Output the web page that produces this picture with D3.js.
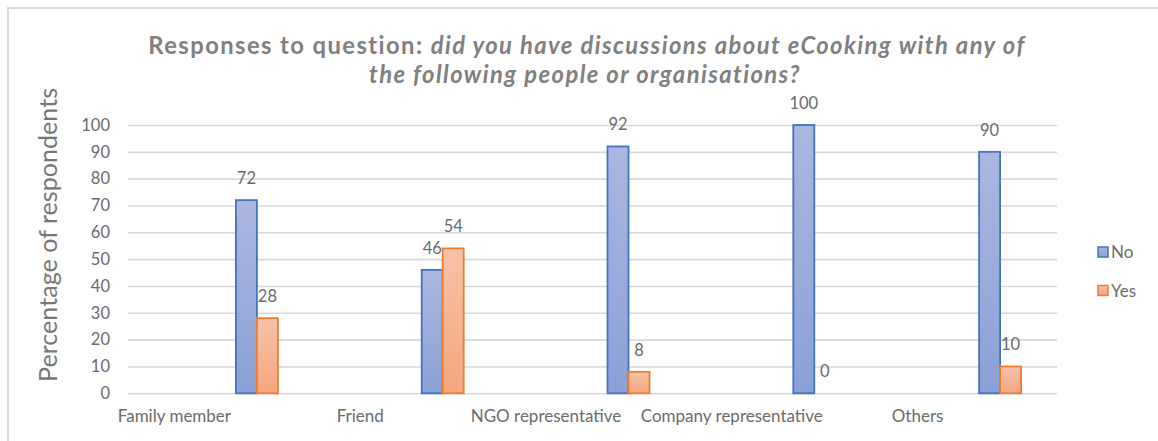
<!DOCTYPE html>
<html>
<head>
<meta charset="utf-8">
<script src="https://cdn.jsdelivr.net/npm/d3@7"></script>
<style>
  html, body { margin: 0; padding: 0; background: #ffffff; }
  svg { display: block; }
  text { font-family: Lato, "Open Sans", "DejaVu Sans", sans-serif; }
</style>
</head>
<body>
<svg id="chart" width="1158" height="441"></svg>
<script>
// Survey responses (percentage of respondents)
const categories = ["Family member", "Friend", "NGO representative", "Company representative", "Others"];
const seriesNames = ["No", "Yes"];
const noValues = [72, 46, 92, 100, 90];
const yesValues = [28, 54, 8, 0, 10];
const yTicks = [0, 10, 20, 30, 40, 50, 60, 70, 80, 90, 100];

const titleLead = "Responses to question: ";
const titleLine1 = "did you have discussions about eCooking with any of";
const titleLine2 = "the following people or organisations?";
const yAxisTitle = "Percentage of respondents";

const W = 1158, H = 441;
const plot = { left: 128, right: 1057, top: 125, bottom: 393.3 };
const textGray = "#6b6b6b";
const gridGray = "#d9d9d9";
const labelSize = "16.5px";
const colors = {
  No:  { stroke: "#4472c4", top: "#aab7df", bottom: "#8aa1d7" },
  Yes: { stroke: "#ed7d31", top: "#f7c2a9", bottom: "#f4a67e" }
};

const svg = d3.select("#chart");

// chart frame (top and left edges)
svg.append("path")
  .attr("d", `M8,441 L8,8 L${W},8`)
  .attr("fill", "none")
  .attr("stroke", "#d9d9d9")
  .attr("stroke-width", 2);

// gradients for the bars
const defs = svg.append("defs");
seriesNames.forEach(s => {
  const g = defs.append("linearGradient")
    .attr("id", "grad-" + s)
    .attr("x1", 0).attr("y1", 0).attr("x2", 0).attr("y2", 1);
  g.append("stop").attr("offset", "0%").attr("stop-color", colors[s].top);
  g.append("stop").attr("offset", "100%").attr("stop-color", colors[s].bottom);
});

const x = d3.scaleBand().domain(categories).range([plot.left, plot.right]).padding(0);
const bw = x.bandwidth();
// series slots sit to the right of each category centre
const x1 = d3.scaleBand().domain(seriesNames).range([bw / 2 + 15, bw / 2 + 57]).padding(0);
const y = d3.scaleLinear().domain([0, 100]).range([plot.bottom, plot.top]);

// horizontal gridlines
const grid = svg.append("g")
  .attr("transform", `translate(${plot.left},0)`)
  .call(d3.axisLeft(y).tickValues(yTicks).tickSize(-(plot.right - plot.left)).tickFormat(""));
grid.select(".domain").remove();
grid.selectAll("line").attr("stroke", gridGray).attr("stroke-width", 1.6);

// y tick labels
const yAxis = svg.append("g")
  .attr("transform", `translate(110,0)`)
  .call(d3.axisLeft(y).tickValues(yTicks).tickSize(0).tickPadding(0));
yAxis.select(".domain").remove();
yAxis.selectAll("text")
  .attr("fill", textGray)
  .style("font-size", labelSize)
  .style("font-family", "Lato, sans-serif");

// category labels
const xAxis = svg.append("g")
  .attr("transform", `translate(0,${plot.bottom})`)
  .call(d3.axisBottom(x).tickSize(0).tickPadding(0));
xAxis.select(".domain").remove();
xAxis.selectAll("text")
  .attr("fill", textGray)
  .attr("dx", -46.5)
  .attr("dy", 0)
  .attr("y", 29)
  .style("font-size", "17px")
  .style("font-family", "Lato, sans-serif");

// bars
const rows = categories.map((c, i) => ({ cat: c, vals: [
  { s: "No", v: noValues[i] },
  { s: "Yes", v: yesValues[i] }
]}));

const groups = svg.append("g").selectAll("g")
  .data(rows).join("g")
  .attr("transform", d => `translate(${x(d.cat)},0)`);

groups.selectAll("rect")
  .data(d => d.vals).join("rect")
  .attr("x", d => x1(d.s))
  .attr("y", d => y(d.v))
  .attr("width", x1.bandwidth())
  .attr("height", d => y(0) - y(d.v))
  .attr("fill", d => `url(#grad-${d.s})`)
  .attr("stroke", d => d.v > 0 ? colors[d.s].stroke : "none")
  .attr("stroke-width", 1.8);

// value labels
groups.selectAll("text.val")
  .data(d => d.vals).join("text")
  .attr("class", "val")
  .attr("x", d => x1(d.s) + x1.bandwidth() / 2)
  .attr("y", d => y(d.v) - 16)
  .attr("text-anchor", "middle")
  .attr("fill", textGray)
  .style("font-size", labelSize)
  .text(d => d.v);

// axis title
svg.append("text")
  .attr("transform", "translate(57,235) rotate(-90)")
  .attr("text-anchor", "middle")
  .attr("fill", "#777777")
  .style("font-size", "22px")
  .text(yAxisTitle)
  .call(fitWidth, 294);

// chart title: fixed size, letter spacing widened slightly to span the line
const titleSize = "23.8px";
const t1 = svg.append("text")
  .attr("x", 587).attr("y", 53.5)
  .attr("text-anchor", "middle")
  .attr("fill", "#808080")
  .style("font-weight", "bold")
  .style("font-size", titleSize);
t1.append("tspan").text(titleLead);
t1.append("tspan").style("font-style", "italic").text(titleLine1);
t1.call(spreadTo, 878);

svg.append("text")
  .attr("x", 585).attr("y", 82.5)
  .attr("text-anchor", "middle")
  .attr("fill", "#808080")
  .style("font-weight", "bold")
  .style("font-style", "italic")
  .style("font-size", titleSize)
  .style("letter-spacing", t1.style("letter-spacing"))
  .text(titleLine2);

// legend
const legend = svg.append("g");
seriesNames.forEach((s, i) => {
  const ly = 247 + i * 38.5;
  legend.append("rect")
    .attr("x", 1098).attr("y", ly)
    .attr("width", 10).attr("height", 10)
    .attr("fill", `url(#grad-${s})`)
    .attr("stroke", colors[s].stroke)
    .attr("stroke-width", 1.5);
  legend.append("text")
    .attr("x", 1111).attr("y", ly + 11)
    .attr("fill", textGray)
    .style("font-size", "17px")
    .text(s);
});

// scale a text's font size so it spans the given width
function fitWidth(sel, target) {
  const node = sel.node();
  const fs = parseFloat(sel.style("font-size"));
  const w = node.getComputedTextLength();
  if (w > 0) sel.style("font-size", (fs * target / w).toFixed(2) + "px");
}

// widen letter spacing so a text spans the given width
function spreadTo(sel, target) {
  const node = sel.node();
  const w = node.getComputedTextLength();
  const n = node.textContent.length;
  const ls = Math.max(0, (target - w) / n);
  sel.style("letter-spacing", ls.toFixed(2) + "px");
}
</script>
</body>
</html>
